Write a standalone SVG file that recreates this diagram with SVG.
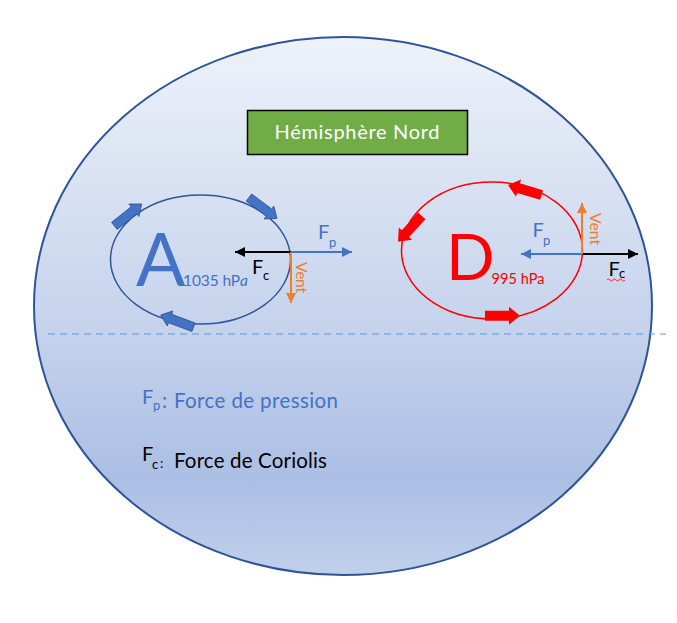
<svg xmlns="http://www.w3.org/2000/svg" width="677" height="623" viewBox="0 0 677 623">
<defs>
<linearGradient id="bg" x1="0" y1="0" x2="0" y2="1">
<stop offset="0" stop-color="#eef2f9"/>
<stop offset="0.55" stop-color="#c4d2ec"/>
<stop offset="0.82" stop-color="#abbfe4"/>
<stop offset="1" stop-color="#c0d0eb"/>
</linearGradient>
<marker id="hBlack" markerUnits="userSpaceOnUse" markerWidth="10" markerHeight="10" viewBox="0 0 10 10" refX="10" refY="5" orient="auto"><path d="M0,0 L10,5 L0,10 Z" fill="#000"/></marker>
<marker id="hBlue" markerUnits="userSpaceOnUse" markerWidth="10" markerHeight="10" viewBox="0 0 10 10" refX="10" refY="5" orient="auto"><path d="M0,0 L10,5 L0,10 Z" fill="#4472c4"/></marker>
<marker id="hOrange" markerUnits="userSpaceOnUse" markerWidth="10" markerHeight="10" viewBox="0 0 10 10" refX="10" refY="5" orient="auto"><path d="M0,0 L10,5 L0,10 Z" fill="#ed7d31"/></marker>
<path id="blockBlue" d="M0,0 L-10,-8 L-10,-4.5 L-35,-4.5 L-35,4.5 L-10,4.5 L-10,8 Z"/>
<path id="blockRed" d="M0,0 L-11,-9 L-11,-5 L-35,-5 L-35,5 L-11,5 L-11,9 Z"/>
</defs>
<style>
text{font-family:Lato,"Liberation Sans",sans-serif}
.f-black{fill:#000}
.f-blue{fill:#4472c4}
.f-orange{fill:#ed7d31}
.f-red{fill:#ff0000}
.ln{stroke-width:2;fill:none}
.bb{fill:#4472c4;stroke:#2f5597;stroke-width:0.8}
.rb{fill:#ff0000}
</style>
<rect width="677" height="623" fill="#fff"/>
<g id="globe">
<ellipse cx="343" cy="306" rx="309" ry="269" fill="url(#bg)" stroke="#2f5597" stroke-width="2"/>
<line x1="48" y1="334" x2="666" y2="334" stroke="#5b9bd5" stroke-width="1" stroke-dasharray="7 5"/>
</g>
<g id="title">
<rect x="247.5" y="110.5" width="220" height="44" fill="#70ad47" stroke="#000" stroke-width="1.5"/>
<text x="357" y="138.5" font-size="20" fill="#fff" text-anchor="middle" textLength="165">Hémisphère Nord</text>
</g>
<g id="anticyclone">
<ellipse cx="200.5" cy="259.5" rx="90" ry="64.5" fill="none" stroke="#2f5597" stroke-width="1.5"/>
<use href="#blockBlue" class="bb" transform="translate(141.7,204) rotate(-38.7)"/>
<use href="#blockBlue" class="bb" transform="translate(277,218.5) rotate(36.8)"/>
<use href="#blockBlue" class="bb" transform="translate(160.7,315) rotate(200.4)"/>
<text x="136" y="286" font-size="73" class="f-blue">A</text>
<text x="183" y="286" font-size="15.5" class="f-blue" textLength="65">1035 hP<tspan font-style="italic">a</tspan></text>
<text x="318" y="238.5" font-size="20" class="f-blue">F</text>
<text x="329" y="246.5" font-size="13" class="f-blue">p</text>
<text x="252" y="273.5" font-size="20" class="f-black">F</text>
<text x="263" y="279.5" font-size="13" class="f-black">c</text>
<text transform="translate(296,262) rotate(90)" font-size="15.5" class="f-orange" textLength="31">Vent</text>
</g>
<g id="depression">
<ellipse cx="492" cy="250.5" rx="90.5" ry="68.5" fill="none" stroke="#ff0000" stroke-width="1.5"/>
<use href="#blockRed" class="rb" transform="translate(508,185) rotate(196.5)"/>
<use href="#blockRed" class="rb" transform="translate(398,241.7) rotate(132.7)"/>
<use href="#blockRed" class="rb" transform="translate(520,315.7) rotate(0)"/>
<text x="446" y="280" font-size="64" class="f-red">D</text>
<text x="491.5" y="283.5" font-size="14.5" class="f-red" textLength="53">995 hPa</text>
<text x="532.5" y="237" font-size="20" class="f-blue">F</text>
<text x="543" y="244.5" font-size="13" class="f-blue">p</text>
<text transform="translate(590,213) rotate(90)" font-size="15.5" class="f-orange" textLength="32">Vent</text>
<text x="608.5" y="276" font-size="20" class="f-black">F</text>
<text x="619" y="277.5" font-size="13" class="f-black">c</text>
<path d="M607,280 q1.5,-2 3,0 t3,0 t3,0 t3,0 t3,0 t3,0" fill="none" stroke="#ff0000" stroke-width="0.8"/>
</g>
<g id="connectors">
<line x1="291" y1="252" x2="235" y2="252" class="ln" stroke="#000" marker-end="url(#hBlack)"/>
<line x1="291" y1="252" x2="352" y2="252" class="ln" stroke="#4472c4" marker-end="url(#hBlue)"/>
<line x1="291" y1="252" x2="291" y2="303" class="ln" stroke="#ed7d31" marker-end="url(#hOrange)"/>
<line x1="582.5" y1="254" x2="521" y2="254" class="ln" stroke="#4472c4" marker-end="url(#hBlue)"/>
<line x1="582.5" y1="254" x2="638" y2="254" class="ln" stroke="#000" marker-end="url(#hBlack)"/>
<line x1="582" y1="254" x2="582" y2="203" class="ln" stroke="#ed7d31" marker-end="url(#hOrange)"/>
</g>
<g id="legend">
<text x="142" y="404" font-size="20" class="f-blue">F</text>
<text x="153" y="410" font-size="13" class="f-blue">p</text>
<text x="162" y="408" font-size="20.5" class="f-blue">:</text>
<text x="174" y="408" font-size="20.5" class="f-blue" textLength="164">Force de pression</text>
<text x="142" y="461" font-size="20" class="f-black">F</text>
<text x="152" y="469" font-size="13" class="f-black">c</text>
<text x="160" y="468" font-size="13" class="f-black">:</text>
<text x="174" y="467.5" font-size="20.5" class="f-black" textLength="153">Force de Coriolis</text>
</g>
</svg>
